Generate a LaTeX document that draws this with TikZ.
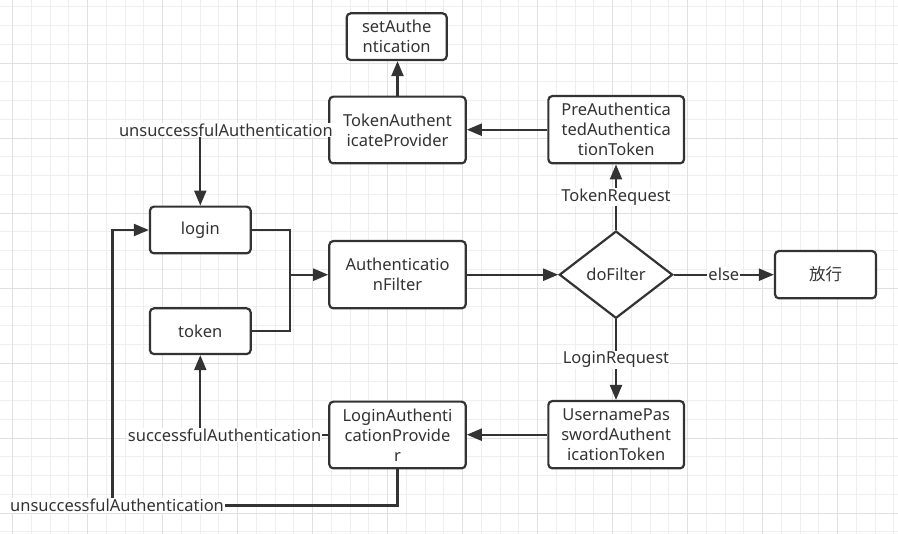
\documentclass[tikz,border=0pt]{standalone}
\usepackage{fontspec}
\setmainfont{Noto Sans}
\newfontfamily\cjk{Noto Sans CJK SC}
\usetikzlibrary{shapes.geometric,arrows.meta}
\definecolor{ln}{HTML}{333333}
\definecolor{gmin}{HTML}{EFEFEF}
\definecolor{gmaj}{HTML}{E0E0E0}
\begin{document}
\begin{tikzpicture}[x=1pt,y=-1pt,
  font=\fontsize{16.5}{20}\selectfont,
  box/.style={draw=ln, line width=2.2pt, rounded corners=4pt, fill=white, align=center, inner sep=0pt, text=ln},
  dec/.style={draw=ln, line width=2.2pt, fill=white, shape=diamond, inner sep=0pt, text=ln},
  conn/.style={draw=ln, line width=2.2pt},
  edge/.style={conn, -{Triangle[length=15pt,width=12pt]}},
  lbl/.style={fill=white, inner sep=1pt, text=ln}]
\useasboundingbox (0,0) rectangle (898,534);
\fill[white] (0,0) rectangle (898,534);
% grid
\foreach \k in {-1,...,47} \draw[gmin, line width=1pt] ({12.7+\k*18.75},0) -- ++(0,534);
\foreach \k in {0,...,28} \draw[gmin, line width=1pt] (0,{7+\k*18.75}) -- ++(898,0);
\foreach \k in {0,...,11} \draw[gmaj, line width=1pt] ({12.7+\k*75},0) -- ++(0,534);
\foreach \k in {1,...,7} \draw[gmaj, line width=1pt] (0,{-11.7+\k*75}) -- ++(898,0);
% nodes
\node[box, minimum width=100pt, minimum height=46.7pt] (sa) at (396.7,36.7) {setAuthe\\ntication};
\node[box, minimum width=136.4pt, minimum height=66.7pt] (tap) at (397.5,130) {TokenAuthent\\icateProvider};
\node[box, minimum width=135.7pt, minimum height=67.3pt] (pre) at (616.2,129.7) {PreAuthentica\\tedAuthentica\\tionToken};
\node[dec, minimum width=113.4pt, minimum height=87.3pt] (dia) at (616,274.7) {doFilter};
\node[box, minimum width=101pt, minimum height=47.3pt] (pass) at (825.5,274.7) {\cjk 放行};
\node[box, minimum width=135.7pt, minimum height=67.3pt] (upt) at (616.2,434.7) {UsernamePas\\swordAuthent\\icationToken};
\node[box, minimum width=100.7pt, minimum height=46.7pt] (login) at (200.3,230) {login};
\node[box, minimum width=100.7pt, minimum height=45.7pt] (token) at (200.3,331.2) {token};
\node[box, minimum width=136.4pt, minimum height=67.3pt] (af) at (397.5,274.7) {Authenticatio\\nFilter};
\node[box, minimum width=136.4pt, minimum height=66.7pt] (lap) at (397.5,435) {LoginAuthenti\\cationProvide\\r};
% helper points
\coordinate (jn) at (290,274.7);
\coordinate (c1) at (200.3,130);
\coordinate (c2) at (200.3,435);
\coordinate (c3) at (397.5,505.5);
\coordinate (c4) at (112.5,505.5);
\coordinate (c5) at (112.5,230);
% connectors
\draw[edge] (tap.north) -- (tap.north |- sa.south);
\draw[edge] (pre.west) -- (pre.west -| tap.east);
\draw[edge] (dia.north) -- node[lbl]{TokenRequest} (dia.north |- pre.south);
\draw[edge] (dia.east) -- node[lbl]{else} (pass.west);
\draw[edge] (dia.south) -- node[lbl]{LoginRequest} (dia.south |- upt.north);
\draw[edge] (upt.west) -- (upt.west -| lap.east);
\draw[edge] (af.east) -- (dia.west);
\draw[conn] (login.east) -| (jn);
\draw[conn] (token.east) -| (jn);
\draw[edge] (jn) -- (af.west);
\draw[edge] (tap.west) -- node[lbl, pos=0.8]{unsuccessfulAuthentication} (c1) -- (login.north);
\draw[edge] (lap.west) -- node[lbl, pos=0.81]{successfulAuthentication} (c2) -- (token.south);
\draw[edge] (lap.south) -- (c3) -- node[lbl, pos=0.984]{unsuccessfulAuthentication} (c4) -- (c5) -- (login.west);
\end{tikzpicture}
\end{document}
